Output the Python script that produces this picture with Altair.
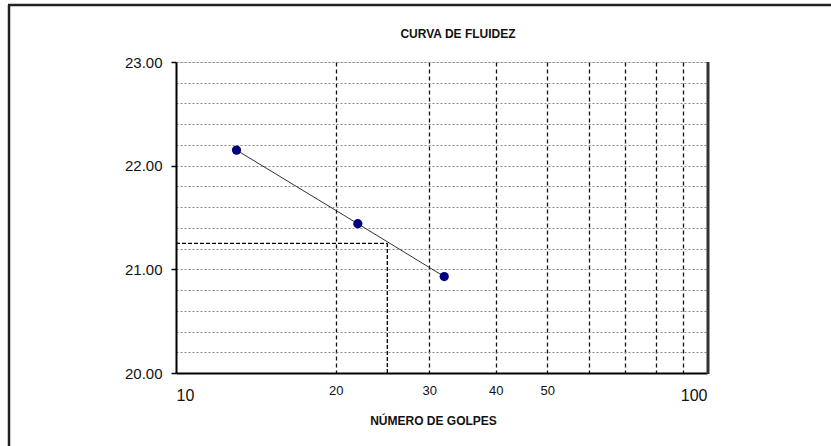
import altair as alt
import pandas as pd

# Data
golpes = [13, 22, 32]
humedad = [22.15, 21.44, 20.93]

ref_golpes = 25
ref_humedad = 21.25

x_min, x_max = 10, 100
y_min, y_max = 20.0, 23.0

x_tick_values = [10, 20, 30, 40, 50, 60, 70, 80, 90, 100]
x_label_values = [10, 20, 30, 40, 50, 100]
y_tick_values = [20.0, 20.2, 20.4, 20.6, 20.8, 21.0, 21.2, 21.4, 21.6, 21.8,
                 22.0, 22.2, 22.4, 22.6, 22.8, 23.0]

chart_title = "CURVA DE FLUIDEZ"
x_title = "NÚMERO DE GOLPES"

pts = pd.DataFrame({"g": golpes, "h": humedad})
href = pd.DataFrame({"x0": [x_min], "x1": [ref_golpes], "y": [ref_humedad]})
vref = pd.DataFrame({"x": [ref_golpes], "y0": [y_min], "y1": [ref_humedad]})
one = pd.DataFrame({"t": [chart_title]})

W, H = 531, 311

big = "datum.value == 10 || datum.value == 100"
is_major_y = "abs(datum.value - round(datum.value)) < 0.01"

xscale = alt.Scale(type="log", domain=[x_min, x_max], nice=False)
yscale = alt.Scale(domain=[y_min, y_max], nice=False, zero=False)

xaxis = alt.Axis(
    values=x_tick_values,
    tickCount=30,
    labelExpr="indexof([10,20,30,40,50,100], datum.value) >= 0 ? datum.label : ''",
    format="d",
    ticks=False,
    labelOverlap=False,
    labelFont="Liberation Sans",
    labelColor="#111",
    labelFontSize={"condition": {"test": big, "value": 16}, "value": 13},
    labelPadding={"condition": {"test": big, "value": 14}, "value": 11},
    grid=True,
    gridColor="#111",
    gridDash=[4, 3],
    gridWidth=1.3,
    gridOpacity={"condition": {"test": big, "value": 0}, "value": 1},
    domainColor="#000",
    domainWidth=2,
    title=x_title,
    titleFont="Liberation Sans",
    titleFontSize=12,
    titleFontWeight="bold",
    titleColor="#111",
    titleX=257,
    titleY=51,
    titleBaseline="alphabetic",
    titleAnchor="middle",
)

yaxis = alt.Axis(
    values=y_tick_values,
    tickCount=40,
    labelExpr=f"{is_major_y} ? format(datum.value, '.2f') : ''",
    labelOverlap=False,
    labelFont="Liberation Sans",
    labelFontSize=15,
    labelColor="#111",
    labelPadding=9,
    labelBaseline="middle",
    tickSize=5,
    tickColor="#000",
    tickWidth=1.5,
    tickOpacity={"condition": {"test": is_major_y, "value": 1}, "value": 0},
    grid=True,
    gridColor="#8a8a8a",
    gridDash=[2, 2],
    gridWidth=1.2,
    domainColor="#000",
    domainWidth=2,
    title=None,
)

base_pts = alt.Chart(pts)

line = base_pts.mark_line(color="#333333", strokeWidth=1).encode(
    x=alt.X("g:Q", scale=xscale, axis=xaxis),
    y=alt.Y("h:Q", scale=yscale, axis=yaxis),
)

dots = base_pts.mark_circle(size=85, color="#000080", opacity=1).encode(
    x=alt.X("g:Q", scale=xscale),
    y=alt.Y("h:Q", scale=yscale),
)

hline = alt.Chart(href).mark_rule(color="#000", strokeDash=[4, 2], strokeWidth=1.3).encode(
    x=alt.X("x0:Q", scale=xscale), x2="x1:Q", y=alt.Y("y:Q", scale=yscale)
)
vline = alt.Chart(vref).mark_rule(color="#000", strokeDash=[4, 2], strokeWidth=1.3).encode(
    x=alt.X("x:Q", scale=xscale), y=alt.Y("y0:Q", scale=yscale), y2="y1:Q"
)

deco = alt.Chart(one)

title_text = deco.mark_text(
    font="Liberation Sans", fontSize=12, fontWeight="bold", color="#111",
    align="center", baseline="alphabetic",
).encode(x=alt.value(282), y=alt.value(-24), text="t:N")

# plot frame right edge and outer picture frame
right_edge = deco.mark_rule(color="#333", strokeWidth=3).encode(
    x=alt.value(W + 1), y=alt.value(0), y2=alt.value(H + 1)
)
outer_left = deco.mark_rule(color="#222", strokeWidth=2.5).encode(
    x=alt.value(-167), y=alt.value(-57), y2=alt.value(H + 80)
)
outer_top = deco.mark_rule(color="#222", strokeWidth=2.5).encode(
    x=alt.value(-168), x2=alt.value(W + 130), y=alt.value(-57)
)

chart = alt.layer(
    line, dots, hline, vline, right_edge, outer_left, outer_top, title_text
).properties(
    width=W,
    height=H,
    autosize=alt.AutoSizeParams(type="none"),
    padding={"left": 176, "top": 62, "right": 124, "bottom": 73},
).configure_view(stroke=None).configure(background="white")

chart.save("out.html", embed_options={"renderer": "svg", "actions": False})
